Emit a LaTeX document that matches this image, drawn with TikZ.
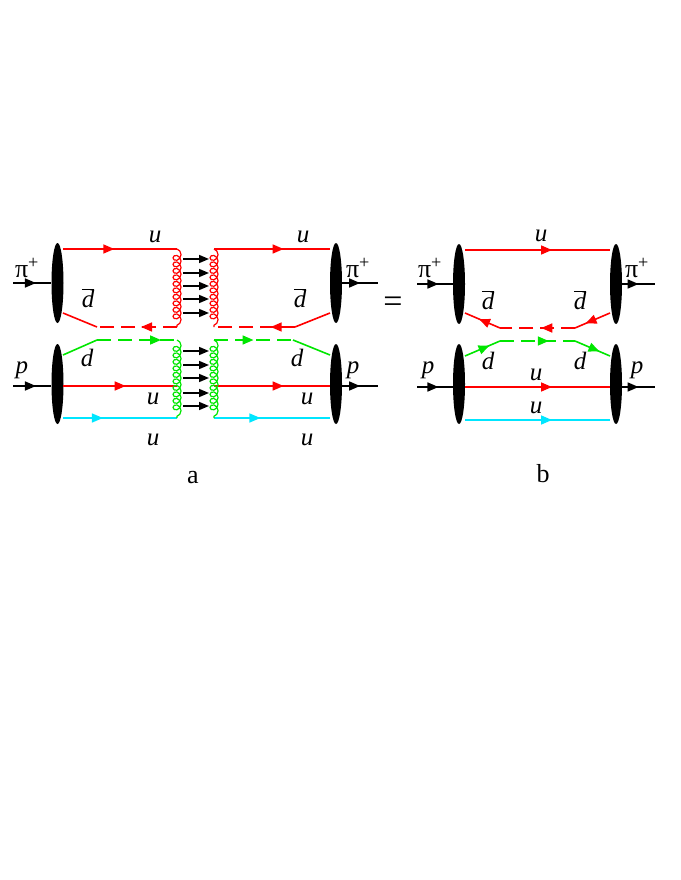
\documentclass[tikz,border=0pt]{standalone}
\usepackage{fontspec}
\setmainfont{Liberation Serif}
\usetikzlibrary{shapes.geometric,arrows.meta,decorations.markings,decorations.pathmorphing}
\definecolor{qgreen}{RGB}{0,230,0}
\definecolor{qcyan}{RGB}{0,230,255}
\tikzset{
  blob/.style={ellipse, fill=black, minimum width=12pt, minimum height=80pt, inner sep=0pt},
  quark/.style={line width=1.6pt},
  qdash/.style={dash pattern=on 14pt off 7pt},
  midarrow/.style={postaction={decorate}, decoration={markings,
      mark=at position #1 with {\arrow{Triangle[length=11pt,width=9pt]}}}},
  gluon/.style={line width=1.2pt, decorate, decoration={coil, aspect=1, amplitude=4pt, segment length=6.5pt}},
  lbl/.style={font=\itshape\fontsize{25}{25}\selectfont, inner sep=0pt},
  had/.style={font=\fontsize{26}{26}\selectfont, inner sep=0pt}
}
\begin{document}
\begin{tikzpicture}[x=1pt, y=-1pt]
  \useasboundingbox (0,0) rectangle (680,880);
  % Nodes with manual coordinates
  \node[blob] (pil) at (57.5,283) {};
  \node[blob] (pl) at (57.5,384) {};
  \node[blob] (pir) at (336,283) {};
  \node[blob] (pr) at (336,384) {};
  \node[blob] (bpil) at (459,284) {};
  \node[blob] (bpl) at (459,384) {};
  \node[blob] (bpir) at (616,284) {};
  \node[blob] (bpr) at (616,384) {};
  \coordinate (in1) at (13,283);  \coordinate (out1) at (378,283);
  \coordinate (in2) at (13,386);  \coordinate (out2) at (378,386);
  \coordinate (in3) at (417,284); \coordinate (out3) at (655,284);
  \coordinate (in4) at (417,387); \coordinate (out4) at (655,387);
  \coordinate (ua) at (63,249);  \coordinate (ub) at (177,249);
  \coordinate (uc) at (214,249); \coordinate (ud) at (330,249);
  \coordinate (ga) at (177,327); \coordinate (gb) at (214,327);
  \coordinate (da) at (63,313);  \coordinate (db) at (97,327);
  \coordinate (dc) at (295,327); \coordinate (dd) at (330,313);
  \coordinate (ea) at (63,355);  \coordinate (eb) at (97,340);
  \coordinate (ec) at (177,340); \coordinate (ed) at (214,340);
  \coordinate (ee) at (293,340); \coordinate (ef) at (330,355);
  \coordinate (ra) at (63,386);  \coordinate (rb) at (177,386);
  \coordinate (rc) at (214,386); \coordinate (rd) at (330,386);
  \coordinate (ca) at (63,418);  \coordinate (cb) at (177,418);
  \coordinate (cc) at (214,418); \coordinate (cd) at (330,418);
  \coordinate (bua) at (465,250); \coordinate (bub) at (610,250);
  \coordinate (bda) at (465,313); \coordinate (bdb) at (500,328);
  \coordinate (bdc) at (575,328); \coordinate (bdd) at (610,313);
  \coordinate (bea) at (465,356); \coordinate (beb) at (500,341);
  \coordinate (bec) at (575,341); \coordinate (bed) at (610,356);
  \coordinate (bra) at (465,387); \coordinate (brb) at (610,387);
  \coordinate (bca) at (465,420); \coordinate (bcb) at (610,420);

  % Labels
  \node[had] (l1) at (27,268) {π\textsuperscript{+}};
  \node[had] (l2) at (358,268) {π\textsuperscript{+}};
  \node[lbl] (l3) at (22,370) {p};
  \node[lbl] (l4) at (353,370) {p};
  \node[lbl] (l5) at (155,237) {u};
  \node[lbl] (l6) at (303,237) {u};
  \node[lbl] (l7) at (88,298) {$\overline{\textit{d}}$};
  \node[lbl] (l8) at (300,298) {$\overline{\textit{d}}$};
  \node[lbl] (l9) at (87,358) {d};
  \node[lbl] (l10) at (297,358) {d};
  \node[lbl] (l11) at (153,399) {u};
  \node[lbl] (l12) at (307,399) {u};
  \node[lbl] (l13) at (153,440) {u};
  \node[lbl] (l14) at (307,440) {u};
  \node[had] (l15) at (193,478) {a};
  \node[had, font=\fontsize{34}{34}\selectfont] (l16) at (393,305) {=};
  \node[had] (l17) at (430,268) {π\textsuperscript{+}};
  \node[had] (l18) at (637,268) {π\textsuperscript{+}};
  \node[lbl] (l19) at (428,370) {p};
  \node[lbl] (l20) at (637,370) {p};
  \node[lbl] (l21) at (541,236) {u};
  \node[lbl] (l22) at (488,300) {$\overline{\textit{d}}$};
  \node[lbl] (l23) at (580,300) {$\overline{\textit{d}}$};
  \node[lbl] (l24) at (488,361) {d};
  \node[lbl] (l25) at (580,361) {d};
  \node[lbl] (l26) at (536,375) {u};
  \node[lbl] (l27) at (536,408) {u};
  \node[had] (l28) at (543,474) {b};

  % Edges: hadrons
  \draw[quark, midarrow=0.6] (in1) -- (pil.west |- in1);
  \draw[quark, midarrow=0.6] (in2) -- (pl.west |- in2);
  \draw[quark, midarrow=0.5] (pir.east |- out1) -- (out1);
  \draw[quark, midarrow=0.5] (pr.east |- out2) -- (out2);
  \draw[quark, midarrow=0.6] (in3) -- (bpil.west |- in3);
  \draw[quark, midarrow=0.6] (in4) -- (bpl.west |- in4);
  \draw[quark, midarrow=0.5] (bpir.east |- out3) -- (out3);
  \draw[quark, midarrow=0.5] (bpr.east |- out4) -- (out4);

  % Edges: diagram a
  \draw[quark, red, midarrow=0.45] (ua) -- (ub);
  \draw[quark, red, midarrow=0.6] (uc) -- (ud);
  \draw[quark, red] (da) -- (db);
  \draw[quark, red, qdash, midarrow=0.45] (ga) -- (db);
  \draw[quark, red, qdash, midarrow=0.3] (dc) -- (gb);
  \draw[quark, red] (dd) -- (dc);
  \draw[quark, qgreen] (ea) -- (eb);
  \draw[quark, qgreen, qdash, midarrow=0.8] (eb) -- (ec);
  \draw[quark, qgreen, qdash, midarrow=0.5] (ed) -- (ee);
  \draw[quark, qgreen] (ee) -- (ef);
  \draw[quark, red, midarrow=0.55] (ra) -- (rb);
  \draw[quark, red, midarrow=0.6] (rc) -- (rd);
  \draw[quark, qcyan, midarrow=0.35] (ca) -- (cb);
  \draw[quark, qcyan, midarrow=0.4] (cc) -- (cd);
  \draw[gluon, red] (ub) -- (ga);
  \draw[gluon, red] (uc) -- (gb);
  \draw[gluon, qgreen] (ec) -- (cb);
  \draw[gluon, qgreen] (ed) -- (cc);
  \foreach \y in {259,273,286,299,313,351,365,378,393,406}
    \draw[quark, -{Triangle[length=10pt,width=8pt]}] (183,\y) -- (209,\y);

  % Edges: diagram b
  \draw[quark, red, midarrow=0.6] (bua) -- (bub);
  \draw[quark, red, midarrow=0.6] (bdb) -- (bda);
  \draw[quark, red, qdash, midarrow=0.45] (bdc) -- (bdb);
  \draw[quark, red, midarrow=0.7] (bdd) -- (bdc);
  \draw[quark, qgreen, midarrow=0.7] (bea) -- (beb);
  \draw[quark, qgreen, qdash, midarrow=0.65] (beb) -- (bec);
  \draw[quark, qgreen, midarrow=0.7] (bec) -- (bed);
  \draw[quark, red, midarrow=0.6] (bra) -- (brb);
  \draw[quark, qcyan, midarrow=0.6] (bca) -- (bcb);
\end{tikzpicture}
\end{document}
